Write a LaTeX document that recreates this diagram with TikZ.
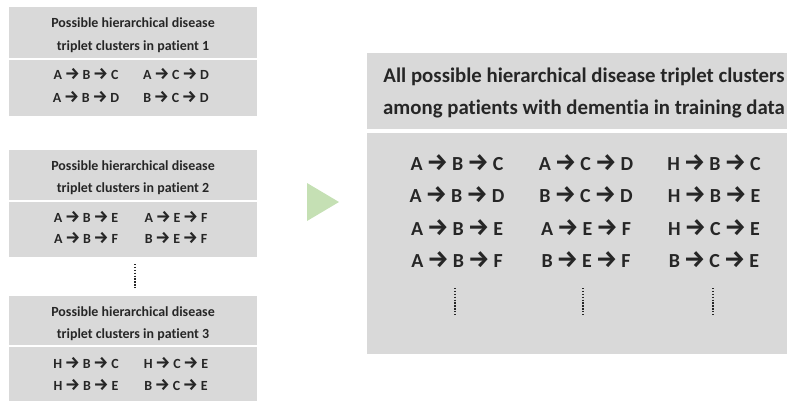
\documentclass[tikz,border=0pt]{standalone}
\usepackage{fontspec}
\setmainfont{Carlito}[Ligatures=NoCommon,RawFeature={-liga;-clig;-calt;-dlig}]
\newfontfamily\arrowfont{Fira Sans}[Scale=1.2]
\definecolor{boxgray}{RGB}{217,217,217}
\definecolor{txt}{RGB}{38,38,38}
\definecolor{tri}{RGB}{197,224,180}
\newcommand{\ar}{\hspace{0.2em}{\arrowfont\bfseries →}\hspace{0.2em}}
\begin{document}
\begin{tikzpicture}[x=1bp,y=-1bp,
  panel/.style={fill=boxgray,draw=none,inner sep=0pt,outer sep=0pt},
  small/.style={text=txt,font=\bfseries\fontsize{14}{16}\selectfont,inner sep=0pt,anchor=base},
  big/.style={text=txt,font=\bfseries\fontsize{20.9}{24}\selectfont,inner sep=0pt,anchor=base},
  mid/.style={text=txt,font=\bfseries\fontsize{20}{24}\selectfont,inner sep=0pt,anchor=base},
  dots/.style={draw=txt,line width=1.3pt,dash pattern=on 1.3pt off 1.6pt}]
\useasboundingbox (0,0) rectangle (787,401);
% left panels
\path[panel] (9,7) rectangle (257,58);
\path[panel] (9,60) rectangle (257,116);
\path[panel] (9,150) rectangle (257,200);
\path[panel] (9,202) rectangle (257,257);
\path[panel] (9,296) rectangle (257,345);
\path[panel] (9,347) rectangle (257,401);
% right panel
\path[panel] (367,53) rectangle (787,129);
\path[panel] (367,133) rectangle (787,354);
% triangle
\path[fill=tri] (307,183) -- (339,202) -- (307,221) -- cycle;
% patient 1
\node[small] (h1a) at (133,27) {Possible hierarchical disease};
\node[small] (h1b) at (133,50) {triplet clusters in patient 1};
\node[small] (p1a) at (86,79) {A\ar B\ar C};
\node[small] (p1b) at (176,79) {A\ar C\ar D};
\node[small] (p1c) at (86,102) {A\ar B\ar D};
\node[small] (p1d) at (176,102) {B\ar C\ar D};
% patient 2
\node[small] (h2a) at (133,170) {Possible hierarchical disease};
\node[small] (h2b) at (133,192) {triplet clusters in patient 2};
\node[small] (p2a) at (86,222) {A\ar B\ar E};
\node[small] (p2b) at (176,222) {A\ar E\ar F};
\node[small] (p2c) at (86,243) {A\ar B\ar F};
\node[small] (p2d) at (176,243) {B\ar E\ar F};
% dots
\coordinate (d0a) at (135,264); \coordinate (d0b) at (135,288);
\draw[dots] (d0a) -- (d0b);
% patient 3
\node[small] (h3a) at (133,316) {Possible hierarchical disease};
\node[small] (h3b) at (133,338) {triplet clusters in patient 3};
\node[small] (p3a) at (86,368) {H\ar B\ar C};
\node[small] (p3b) at (176,368) {H\ar C\ar E};
\node[small] (p3c) at (86,390) {H\ar B\ar E};
\node[small] (p3d) at (176,390) {B\ar C\ar E};
% right header
\node[big] (ha) at (584,82) {All possible hierarchical disease triplet clusters};
\node[big] (hb) at (584,114) {among patients with dementia in training data};
% right body
\node[mid] (r11) at (457,170) {A\ar B\ar C};
\node[mid] (r12) at (586,170) {A\ar C\ar D};
\node[mid] (r13) at (714,170) {H\ar B\ar C};
\node[mid] (r21) at (457,202) {A\ar B\ar D};
\node[mid] (r22) at (586,202) {B\ar C\ar D};
\node[mid] (r23) at (714,202) {H\ar B\ar E};
\node[mid] (r31) at (457,235) {A\ar B\ar E};
\node[mid] (r32) at (586,235) {A\ar E\ar F};
\node[mid] (r33) at (714,235) {H\ar C\ar E};
\node[mid] (r41) at (457,267) {A\ar B\ar F};
\node[mid] (r42) at (586,267) {B\ar E\ar F};
\node[mid] (r43) at (714,267) {B\ar C\ar E};
\coordinate (d1a) at (455,288); \coordinate (d1b) at (455,315);
\coordinate (d2a) at (583,288); \coordinate (d2b) at (583,315);
\coordinate (d3a) at (713,288); \coordinate (d3b) at (713,315);
\draw[dots] (d1a) -- (d1b);
\draw[dots] (d2a) -- (d2b);
\draw[dots] (d3a) -- (d3b);
\end{tikzpicture}
\end{document}
